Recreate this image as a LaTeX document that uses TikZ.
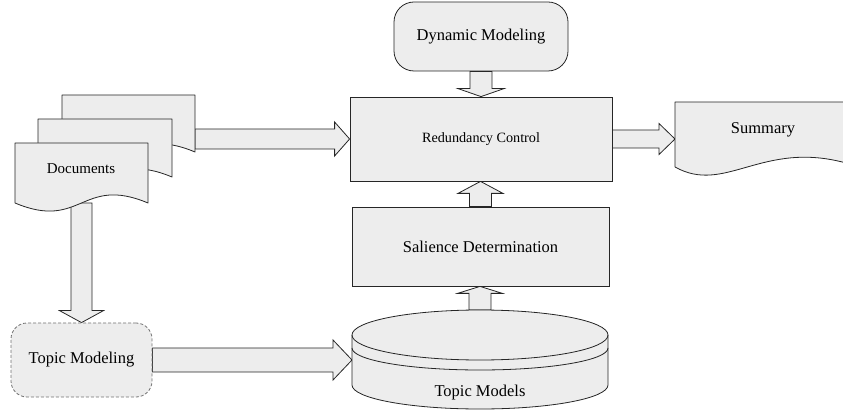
\documentclass[tikz,border=0pt]{standalone}
\usepackage{fontspec}
\setmainfont{Liberation Serif}
\usetikzlibrary{calc}

\pgfdeclarelayer{arrowlayer}
\pgfdeclarelayer{shapelayer}
\pgfsetlayers{arrowlayer,shapelayer,main}

\definecolor{boxfill}{HTML}{EDEDED}
\definecolor{edge}{HTML}{262626}

% block arrow: #1 tail, #2 tip, #3 half shaft width, #4 half head width, #5 head length
\newcommand{\fatarrow}[5]{%
  \coordinate (fa-base) at ($(#2)!#5!(#1)$);
  \draw[arrowbody]
    ($(#1)!#3!90:(#2)$) -- ($(fa-base)!#3!90:(#2)$) -- ($(fa-base)!#4!90:(#2)$)
    -- (#2)
    -- ($(fa-base)!#4!-90:(#2)$) -- ($(fa-base)!#3!-90:(#2)$) -- ($(#1)!#3!-90:(#2)$)
    -- cycle;}

% document outline with a wavy bottom, drawn around an (empty) body node
\newcommand{\docoutline}[1]{%
  \draw[shapebody] (#1.south west) -- (#1.north west) -- (#1.north east) -- (#1.south east)
    .. controls ($(#1.south)+(0,-28)$) and ($(#1.south)+(0,28)$) .. (#1.south west) -- cycle;}

\begin{document}
\begin{tikzpicture}[x=1pt,y=-1pt,
  every node/.style={font=\fontsize{16.5}{19}\selectfont},
  shapebody/.style={draw=edge, fill=boxfill, line width=0.8pt, line join=round},
  arrowbody/.style={draw=edge, fill=boxfill, line width=0.8pt, line join=miter},
  procbox/.style={draw=edge, fill=boxfill, line width=0.8pt, inner sep=0pt},
  roundbox/.style={procbox, rounded corners=20pt},
  dashbox/.style={draw=black!55, fill=boxfill, line width=0.8pt, inner sep=0pt,
                  rounded corners=16pt, dash pattern=on 3pt off 2pt},
  body/.style={inner sep=0pt, outer sep=0pt, anchor=north west},
  caption/.style={inner sep=1pt}
]
\useasboundingbox (0,0) rectangle (843,411);

% boxes
\node[roundbox, minimum width=174pt, minimum height=69pt] (dyn) at (481,36.5) {Dynamic Modeling};
\node[procbox, minimum width=262pt, minimum height=84pt, font=\fontsize{14.2}{17}\selectfont] (red) at (481,139) {Redundancy Control};
\node[procbox, minimum width=257pt, minimum height=79pt] (sal) at (480.5,246.5) {Salience Determination};
\node[dashbox, minimum width=141pt, minimum height=74pt] (tmod) at (81.5,360) {Topic Modeling};

% document stack
\node[body, minimum width=133pt, minimum height=57pt] (docback) at (62,95) {};
\node[body, minimum width=134pt, minimum height=58pt] (docmid) at (38,119) {};
\node[body, minimum width=133pt, minimum height=60pt] (docfront) at (15,143) {};
\node[caption, font=\fontsize{15}{18}\selectfont] (doclabel) at (81,169) {Documents};

% summary sheet
\node[body, minimum width=171pt, minimum height=65pt] (sumbody) at (675,102) {};
\node[caption] (sumlabel) at (763,130) {Summary};

% topic model store
\node[inner sep=0pt, outer sep=0pt, minimum width=256pt, minimum height=99pt] (models) at (480,359.5) {};
\node[caption] (modlabel) at (480,393) {Topic Models};

\begin{pgfonlayer}{shapelayer}
  \docoutline{docback}
  \docoutline{docmid}
  \docoutline{docfront}
  \draw[shapebody] (675,167) -- (675,102) -- (846,102) -- (846,163)
    .. controls (762,140) and (725,195) .. (675,167) -- cycle;
  \draw[shapebody] (352,335) -- (352,385)
    arc[start angle=180, end angle=360, x radius=128pt, y radius=24pt]
    -- (608,335)
    arc[start angle=0, end angle=180, x radius=128pt, y radius=25pt] -- cycle;
  \draw[edge, line width=0.8pt] (352,335) arc[start angle=180, end angle=360, x radius=128pt, y radius=25pt];
  \draw[edge, line width=0.8pt] (352,348) arc[start angle=180, end angle=360, x radius=128pt, y radius=22pt];
\end{pgfonlayer}

\begin{pgfonlayer}{arrowlayer}
  \coordinate (docout) at (docback.east |- red.west);
  \coordinate (sumin) at (sumbody.west |- red.east);
  \coordinate (redlow) at (sal.north |- red.south);
  \coordinate (saltop) at (models.north |- sal.south);
  \coordinate (modin) at (models.west |- tmod.east);
  \fatarrow{docout}{red.west}{10pt}{17pt}{15pt}
  \fatarrow{dyn.south}{red.north}{11pt}{23pt}{8pt}
  \fatarrow{red.east}{sumin}{9pt}{15.5pt}{16pt}
  \fatarrow{sal.north}{redlow}{11pt}{22.5pt}{12pt}
  \fatarrow{models.north}{saltop}{11pt}{22.5pt}{7pt}
  \fatarrow{docfront.south}{tmod.north}{10.5pt}{22pt}{12pt}
  \fatarrow{tmod.east}{modin}{12pt}{20pt}{19pt}
\end{pgfonlayer}
\end{tikzpicture}
\end{document}
